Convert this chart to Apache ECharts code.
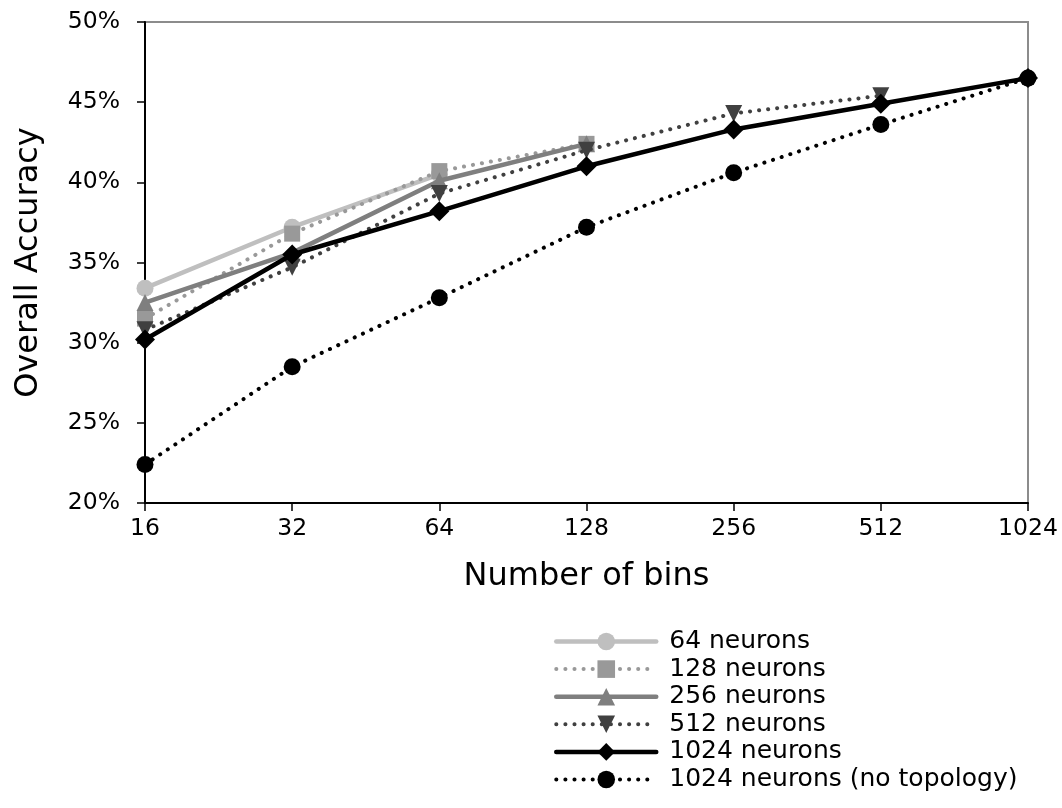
<!DOCTYPE html>
<html>
<head>
<meta charset="utf-8">
<script src="https://cdn.jsdelivr.net/npm/echarts@6/dist/echarts.min.js"></script>
<style>
  html, body { margin: 0; padding: 0; background: #fff; }
  #chart { width: 1062px; height: 808px; }
</style>
</head>
<body>
<div id="chart"></div>
<script>
// Number of bins (log2 axis)
const bins = [16, 32, 64, 128, 256, 512, 1024];

// Overall accuracy (%) per network size
const acc64 = [33.4, 37.2, 40.5];
const acc128 = [31.5, 36.8, 40.7, 42.4];
const acc256 = [32.5, 35.6, 40.1, 42.4];
const acc512 = [30.8, 34.7, 39.3, 42.0, 44.3, 45.4];
const acc1024 = [30.2, 35.5, 38.2, 41.0, 43.3, 44.9, 46.5];
const acc1024NoTopo = [22.4, 28.5, 32.8, 37.2, 40.6, 43.6, 46.5];

const seriesNames = [
  '64 neurons',
  '128 neurons',
  '256 neurons',
  '512 neurons',
  '1024 neurons',
  '1024 neurons (no topology)'
];

const FONT = 'DejaVu Sans';
const SOLID_W = 4.5;
const DOT_W = 4;
const DOT_DASH = [0.1, 9];

function pairs(values) {
  return values.map((v, i) => [bins[i], v]);
}

function makeSeries(name, values, color, solid, symbol, symbolSize, z) {
  return {
    name: name,
    type: 'line',
    data: pairs(values),
    symbol: symbol,
    symbolSize: symbolSize,
    showAllSymbol: true,
    z: z,
    lineStyle: {
      color: color,
      width: solid ? SOLID_W : DOT_W,
      type: solid ? 'solid' : DOT_DASH,
      cap: 'round'
    },
    itemStyle: { color: color },
    emphasis: { disabled: true }
  };
}

const solidFlags = [true, false, true, false, true, false];
const legendData = seriesNames.map((n, i) => ({
  name: n,
  lineStyle: { width: solidFlags[i] ? SOLID_W : DOT_W }
}));

const chart = echarts.init(document.getElementById('chart'), null, { renderer: 'canvas' });

chart.setOption({
  animation: false,
  backgroundColor: '#ffffff',
  textStyle: { fontFamily: FONT },
  grid: {
    left: 145, right: 34, top: 22, bottom: 305,
    show: true,
    borderColor: '#8c8c8c',
    borderWidth: 2,
    backgroundColor: 'transparent'
  },
  xAxis: {
    type: 'log',
    logBase: 2,
    min: 16,
    max: 1024,
    name: 'Number of bins',
    nameLocation: 'middle',
    nameGap: 58,
    nameTextStyle: { fontFamily: FONT, fontSize: 32, color: '#000' },
    axisLine: { show: true, lineStyle: { color: '#000', width: 2 } },
    axisTick: { show: true, inside: false, length: 8, lineStyle: { color: '#000', width: 1.5 } },
    axisLabel: {
      fontFamily: FONT, fontSize: 23.5, color: '#000', margin: 14,
      formatter: function (v) { return String(Math.round(v)); }
    },
    splitLine: { show: false },
    minorTick: { show: false }
  },
  yAxis: {
    type: 'value',
    min: 20,
    max: 50,
    interval: 5,
    name: 'Overall Accuracy',
    nameLocation: 'middle',
    nameGap: 100,
    nameRotate: 90,
    nameTextStyle: { fontFamily: FONT, fontSize: 32, color: '#000' },
    axisLine: { show: true, lineStyle: { color: '#000', width: 2 } },
    axisTick: { show: true, inside: false, length: 8, lineStyle: { color: '#000', width: 1.5 } },
    axisLabel: { fontFamily: FONT, fontSize: 23.5, color: '#000', margin: 25, formatter: '{value}%' },
    splitLine: { show: false }
  },
  legend: {
    orient: 'vertical',
    left: 554,
    top: 629,
    padding: 0,
    itemWidth: 100,
    itemHeight: 22,
    itemGap: 2.6,
    data: legendData,
    textStyle: { fontFamily: FONT, fontSize: 25, color: '#000', padding: [0, 0, 0, 8] },
    selectedMode: false
  },
  series: [
    makeSeries(seriesNames[0], acc64, '#bfbfbf', true, 'circle', 17, 2),
    makeSeries(seriesNames[1], acc128, '#999999', false, 'rect', 16, 3),
    makeSeries(seriesNames[2], acc256, '#7f7f7f', true, 'triangle', 17, 4),
    makeSeries(seriesNames[3], acc512, '#404040', false, 'path://M0,0 L10,0 L5,9 Z', 17, 5),
    makeSeries(seriesNames[4], acc1024, '#000000', true, 'diamond', 20, 6),
    makeSeries(seriesNames[5], acc1024NoTopo, '#000000', false, 'circle', 17, 7)
  ]
});
</script>
</body>
</html>
